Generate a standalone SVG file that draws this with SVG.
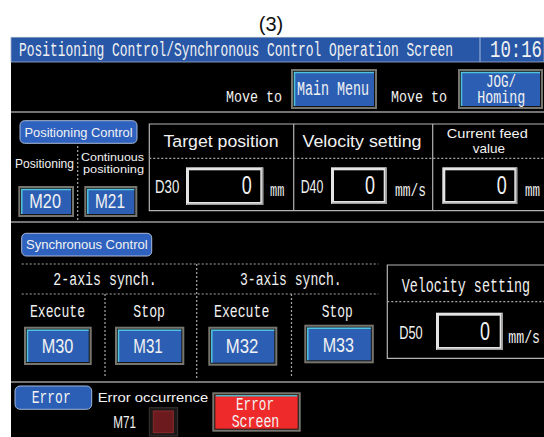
<svg xmlns="http://www.w3.org/2000/svg" width="544" height="437" viewBox="0 0 544 437">
  <style>
    .mono { font-family: "Liberation Mono", "DejaVu Sans Mono", monospace; fill: #f2f2f2; }
    .sans { font-family: "Liberation Sans", Arial, sans-serif; fill: #f2f2f2; }
    .nar { font-family: "Liberation Sans", Arial, sans-serif; fill: #f2f2f2; }
    .rule { stroke: #9a9a9a; stroke-width: 1.5; fill: none; }
    .frame { stroke: #b4b4b4; stroke-width: 1.2; fill: none; }
    .dots { stroke: #a8a8a8; stroke-width: 1.2; stroke-dasharray: 2 2; fill: none; }
    .btn-frame { fill: #77766e; }
    .btn-face { fill: #2c5fb3; stroke: #141414; stroke-width: 1; }
    .btn-hl { fill: none; stroke: #4fc3de; stroke-width: 1.5; }
    .btn-red { fill: #ee2a2a; stroke: #141414; stroke-width: 1; }
    .box-out { fill: #e4e4e4; }
    .box-shade { fill: none; stroke: #9c9c9c; stroke-width: 1.5; }
    .box-in { fill: #000; }
    .badge { fill: #2f62bf; stroke: #a9b9d8; stroke-width: 1; }
  </style>

  <!-- page background and screen -->
  <rect x="0" y="0" width="544" height="437" fill="#ffffff"/>
  <text x="271" y="31" class="sans" font-size="20" text-anchor="middle" style="fill:#111">(3)</text>
  <rect x="11" y="37.3" width="533" height="399.7" fill="#000"/>

  <!-- title bar -->
  <g id="title-bar">
    <rect x="11" y="37.3" width="533" height="24.7" fill="#2857a7" stroke="#9fb0cc" stroke-width="0.8"/>
    <line x1="480" y1="37.3" x2="480" y2="62" stroke="#8fa9d6" stroke-width="1.2"/>
    <text x="19" y="56" class="mono" font-size="20" textLength="434" lengthAdjust="spacingAndGlyphs">Positioning Control/Synchronous Control Operation Screen</text>
    <text x="490" y="57.3" class="mono" font-size="23.5" textLength="52" lengthAdjust="spacingAndGlyphs">10:16</text>
  </g>

  <!-- section rules -->
  <g id="rules">
    <line x1="11" y1="112" x2="544" y2="112" class="rule"/>
    <line x1="11" y1="222" x2="544" y2="222" class="rule"/>
    <line x1="11" y1="382" x2="544" y2="382" class="rule"/>
  </g>

  <!-- navigation -->
  <g id="nav-main">
    <text x="226" y="101.7" class="mono" font-size="17" textLength="56" lengthAdjust="spacingAndGlyphs">Move to</text>
    <rect x="291" y="69" width="86" height="40" class="btn-frame"/>
    <rect x="293.5" y="71.5" width="81" height="35" class="btn-face"/>
    <path d="M294.5 106 V72.5 H374" class="btn-hl"/>
    <text x="297" y="95" class="mono" font-size="19.5" textLength="72" lengthAdjust="spacingAndGlyphs">Main Menu</text>
  </g>
  <g id="nav-jog">
    <text x="391" y="101.7" class="mono" font-size="17" textLength="56" lengthAdjust="spacingAndGlyphs">Move to</text>
    <rect x="458" y="69" width="85" height="40" class="btn-frame"/>
    <rect x="460.5" y="71.5" width="80" height="35" class="btn-face"/>
    <path d="M461.5 106 V72.5 H540" class="btn-hl"/>
    <text x="486" y="86.7" class="mono" font-size="18" textLength="30" lengthAdjust="spacingAndGlyphs">JOG/</text>
    <text x="477.3" y="103.3" class="mono" font-size="18" textLength="48" lengthAdjust="spacingAndGlyphs">Homing</text>
  </g>

  <!-- positioning control -->
  <g id="positioning-control">
    <rect x="20" y="120.7" width="117" height="22.6" rx="4.5" class="badge"/>
    <text x="78.5" y="137.3" class="sans" font-size="12.5" text-anchor="middle" textLength="108" lengthAdjust="spacingAndGlyphs">Positioning Control</text>
    <line x1="77.7" y1="146" x2="77.7" y2="221" class="dots"/>
    <text x="15" y="168.3" class="sans" font-size="12.5" textLength="59" lengthAdjust="spacingAndGlyphs">Positioning</text>
    <text x="81" y="160.7" class="sans" font-size="11.8" textLength="63" lengthAdjust="spacingAndGlyphs">Continuous</text>
    <text x="83" y="173.3" class="sans" font-size="11.8" textLength="61" lengthAdjust="spacingAndGlyphs">positioning</text>
  </g>
  <g id="btn-m20">
    <rect x="18.3" y="186" width="55.7" height="31" class="btn-frame"/>
    <rect x="20.8" y="188.5" width="50.7" height="26" class="btn-face"/>
    <path d="M21.8 214 V189.5 H71" class="btn-hl"/>
    <text x="29.3" y="208.3" class="nar" font-size="21" textLength="31.7" lengthAdjust="spacingAndGlyphs">M20</text>
  </g>
  <g id="btn-m21">
    <rect x="84.3" y="186" width="53" height="31" class="btn-frame"/>
    <rect x="86.8" y="188.5" width="48" height="26" class="btn-face"/>
    <path d="M87.8 214 V189.5 H134.3" class="btn-hl"/>
    <text x="95" y="208.3" class="nar" font-size="21" textLength="30" lengthAdjust="spacingAndGlyphs">M21</text>
  </g>

  <!-- position / velocity table -->
  <g id="position-table">
    <path d="M544 124 H149.3 V210.7 H544" class="frame"/>
    <line x1="293.7" y1="124" x2="293.7" y2="210.7" class="frame"/>
    <line x1="432.7" y1="124" x2="432.7" y2="210.7" class="frame"/>
    <line x1="149.3" y1="158.3" x2="544" y2="158.3" class="dots"/>
    <text x="221" y="146.7" class="sans" font-size="16" text-anchor="middle" textLength="115" lengthAdjust="spacingAndGlyphs">Target position</text>
    <text x="362" y="146.7" class="sans" font-size="16" text-anchor="middle" textLength="119" lengthAdjust="spacingAndGlyphs">Velocity setting</text>
    <text x="487.3" y="138.3" class="sans" font-size="13.5" text-anchor="middle" textLength="81" lengthAdjust="spacingAndGlyphs">Current feed</text>
    <text x="489" y="152.7" class="sans" font-size="13.5" text-anchor="middle">value</text>
  </g>
  <g id="field-d30">
    <text x="155" y="193.3" class="nar" font-size="18.5" textLength="24.3" lengthAdjust="spacingAndGlyphs">D30</text>
    <rect x="186" y="167.3" width="77.3" height="37.7" class="box-out"/>
    <path d="M186.8 204.2 H262.5 V168" class="box-shade"/>
    <rect x="189" y="170.3" width="71.3" height="31.7" class="box-in"/>
    <text x="241.7" y="194" class="nar" font-size="25" textLength="10" lengthAdjust="spacingAndGlyphs">0</text>
    <text x="270" y="196" class="mono" font-size="18.5" textLength="14.3" lengthAdjust="spacingAndGlyphs">mm</text>
  </g>
  <g id="field-d40">
    <text x="300.7" y="193.3" class="nar" font-size="18.5" textLength="22.6" lengthAdjust="spacingAndGlyphs">D40</text>
    <rect x="331" y="167.3" width="55.7" height="36.7" class="box-out"/>
    <path d="M331.8 203.2 H385.9 V168" class="box-shade"/>
    <rect x="334" y="170.3" width="49.7" height="30.7" class="box-in"/>
    <text x="365" y="194" class="nar" font-size="25" textLength="10" lengthAdjust="spacingAndGlyphs">0</text>
    <text x="395" y="196" class="mono" font-size="18.5" textLength="31" lengthAdjust="spacingAndGlyphs">mm/s</text>
  </g>
  <g id="field-feed">
    <rect x="442.3" y="167.3" width="75" height="36.7" class="box-out"/>
    <path d="M443.1 203.2 H516.5 V168" class="box-shade"/>
    <rect x="445.3" y="170.3" width="69" height="30.7" class="box-in"/>
    <text x="496.7" y="194" class="nar" font-size="25" textLength="10" lengthAdjust="spacingAndGlyphs">0</text>
    <text x="525" y="196" class="mono" font-size="18.5" textLength="15" lengthAdjust="spacingAndGlyphs">mm</text>
  </g>

  <!-- synchronous control -->
  <g id="synchronous-control">
    <rect x="21.7" y="233.3" width="130" height="22.7" rx="4.5" class="badge"/>
    <text x="86.8" y="249.3" class="sans" font-size="12.5" text-anchor="middle" textLength="121.7" lengthAdjust="spacingAndGlyphs">Synchronous Control</text>
    <line x1="21.7" y1="264" x2="378.3" y2="264" class="dots"/>
    <line x1="21.7" y1="294" x2="378.3" y2="294" class="dots"/>
    <line x1="196.7" y1="264" x2="196.7" y2="378" class="dots"/>
    <line x1="105" y1="294" x2="105" y2="378" class="dots"/>
    <line x1="291.5" y1="294" x2="291.5" y2="378" class="dots"/>
    <text x="53.3" y="285" class="mono" font-size="18" textLength="103.4" lengthAdjust="spacingAndGlyphs">2-axis synch.</text>
    <text x="240" y="285" class="mono" font-size="18" textLength="101.7" lengthAdjust="spacingAndGlyphs">3-axis synch.</text>
    <text x="30" y="316.7" class="mono" font-size="18.5" textLength="55" lengthAdjust="spacingAndGlyphs">Execute</text>
    <text x="133.3" y="316.7" class="mono" font-size="18.5" textLength="31.7" lengthAdjust="spacingAndGlyphs">Stop</text>
    <text x="214" y="316.7" class="mono" font-size="18.5" textLength="55.3" lengthAdjust="spacingAndGlyphs">Execute</text>
    <text x="321.7" y="316.7" class="mono" font-size="18.5" textLength="31" lengthAdjust="spacingAndGlyphs">Stop</text>
  </g>
  <g id="btn-m30">
    <rect x="24" y="326.7" width="67.7" height="38.3" class="btn-frame"/>
    <rect x="26.5" y="329.2" width="62.7" height="33.3" class="btn-face"/>
    <path d="M27.5 362 V330.2 H88.7" class="btn-hl"/>
    <text x="57.5" y="353.3" class="nar" font-size="21" text-anchor="middle" textLength="31.6" lengthAdjust="spacingAndGlyphs">M30</text>
  </g>
  <g id="btn-m31">
    <rect x="115" y="326.7" width="69.3" height="38.3" class="btn-frame"/>
    <rect x="117.5" y="329.2" width="64.3" height="33.3" class="btn-face"/>
    <path d="M118.5 362 V330.2 H181.3" class="btn-hl"/>
    <text x="148" y="353.3" class="nar" font-size="21" text-anchor="middle" textLength="29.4" lengthAdjust="spacingAndGlyphs">M31</text>
  </g>
  <g id="btn-m32">
    <rect x="208.3" y="326.7" width="69" height="39" class="btn-frame"/>
    <rect x="210.8" y="329.2" width="64" height="34" class="btn-face"/>
    <path d="M211.8 362.7 V330.2 H274.3" class="btn-hl"/>
    <text x="242" y="353.3" class="nar" font-size="21" text-anchor="middle" textLength="32.6" lengthAdjust="spacingAndGlyphs">M32</text>
  </g>
  <g id="btn-m33">
    <rect x="304.3" y="324.7" width="69.5" height="38.6" class="btn-frame"/>
    <rect x="306.8" y="327.2" width="64.5" height="33.6" class="btn-face"/>
    <path d="M307.8 360.3 V328.2 H370.8" class="btn-hl"/>
    <text x="338.3" y="351.7" class="nar" font-size="21" text-anchor="middle" textLength="31.3" lengthAdjust="spacingAndGlyphs">M33</text>
  </g>
  <g id="sync-velocity">
    <path d="M544 265 H387.3 V358.3 H544" class="frame"/>
    <line x1="387.3" y1="301.7" x2="544" y2="301.7" class="dots"/>
    <text x="401.7" y="291.7" class="mono" font-size="20" textLength="128.3" lengthAdjust="spacingAndGlyphs">Velocity setting</text>
    <text x="399.3" y="339.3" class="nar" font-size="18.5" textLength="23.4" lengthAdjust="spacingAndGlyphs">D50</text>
    <rect x="436" y="312.7" width="66.7" height="37.3" class="box-out"/>
    <path d="M436.8 349.2 H501.9 V313.4" class="box-shade"/>
    <rect x="439" y="315.7" width="60.7" height="31.3" class="box-in"/>
    <text x="480" y="340" class="nar" font-size="25" textLength="10" lengthAdjust="spacingAndGlyphs">0</text>
    <text x="508.3" y="342.7" class="mono" font-size="18.5" textLength="31.7" lengthAdjust="spacingAndGlyphs">mm/s</text>
  </g>

  <!-- error area -->
  <g id="error-badge">
    <rect x="15" y="386" width="76.7" height="23.3" rx="5" fill="#2b5fb5" stroke="#a3b6d8" stroke-width="1"/>
    <text x="31.7" y="403.3" class="mono" font-size="18" textLength="39" lengthAdjust="spacingAndGlyphs">Error</text>
  </g>
  <g id="error-lamp">
    <text x="97.7" y="401.7" class="sans" font-size="13.5" textLength="110.6" lengthAdjust="spacingAndGlyphs">Error occurrence</text>
    <text x="113.3" y="428.3" class="nar" font-size="16.5" textLength="22.7" lengthAdjust="spacingAndGlyphs">M71</text>
    <rect x="149.3" y="407.7" width="28.4" height="28.3" fill="#1c1818" stroke="#3a3232" stroke-width="1"/>
    <rect x="153.3" y="411" width="20" height="21.7" fill="#6c1a1d" stroke="#8a2b2e" stroke-width="1"/>
  </g>
  <g id="btn-error-screen">
    <rect x="212.3" y="392.3" width="88.4" height="39.4" class="btn-frame"/>
    <rect x="214.8" y="394.8" width="83.4" height="34.4" class="btn-red"/>
    <path d="M215.8 395.8 H297.2" fill="none" stroke="#4fb8c8" stroke-width="1.5"/>
    <text x="236" y="410" class="mono" font-size="18" textLength="38" lengthAdjust="spacingAndGlyphs">Error</text>
    <text x="231.7" y="426.7" class="mono" font-size="18" textLength="47.6" lengthAdjust="spacingAndGlyphs">Screen</text>
  </g>
</svg>
